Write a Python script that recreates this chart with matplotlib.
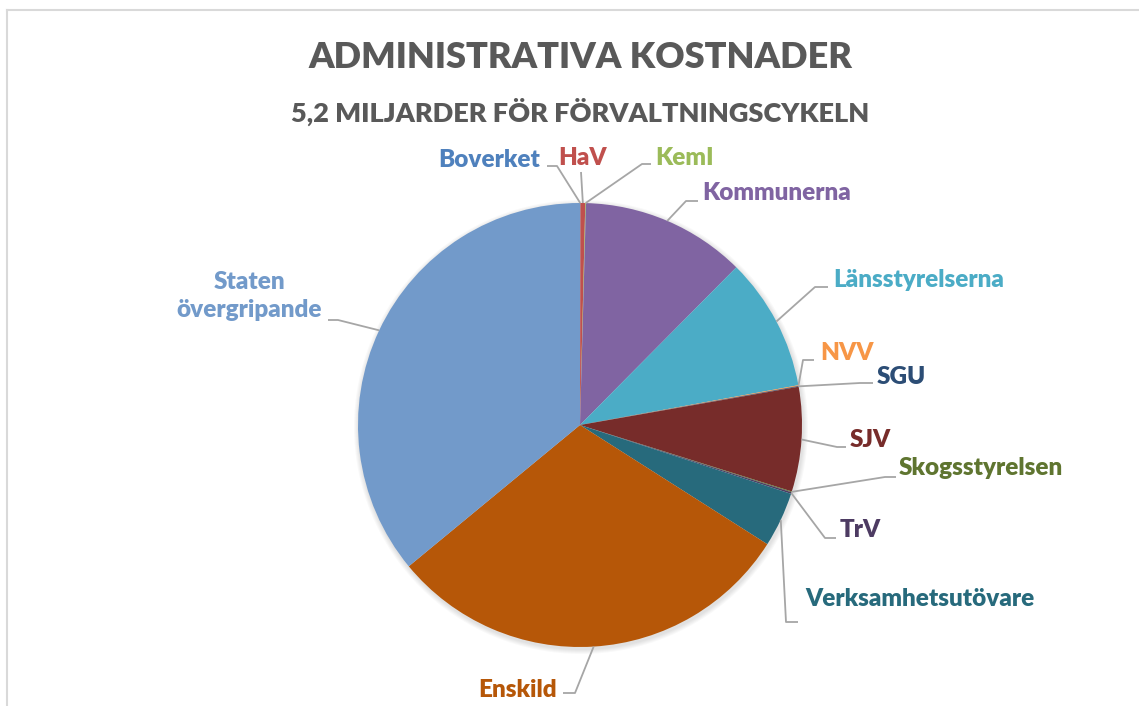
import numpy as np
import matplotlib
matplotlib.use("Agg")
import matplotlib.pyplot as plt
from matplotlib.patches import Circle

plt.rcParams["font.family"] = ["Lato", "DejaVu Sans"]

# slice shares in percent, clockwise from 12 o'clock
labels = ["Boverket", "HaV", "KemI", "Kommunerna", "Länsstyrelserna", "NVV", "SGU",
          "SJV", "Skogsstyrelsen", "TrV", "Verksamhetsutövare", "Enskild",
          "Staten\növergripande"]
values = [0.03, 0.35, 0.05, 12.0, 9.7, 0.06, 0.05, 7.6, 0.06, 0.12, 4.0, 30.0, 35.98]
colors = ["#4F81BD", "#C0504D", "#9BBB59", "#8064A2", "#4BACC6", "#F79646", "#2C4D75",
          "#772C2A", "#5F7530", "#4D3B62", "#276A7C", "#B65708", "#729ACA"]
label_colors = ["#4F81BD", "#C0504D", "#9BBB59", "#8064A2", "#4BACC6", "#F79646", "#2C4D75",
                "#772C2A", "#5F7530", "#4D3B62", "#276A7C", "#B65708", "#729ACA"]

# label layout in pixel coords (y down): text x, text y, ha, elbow, end of leader
layout = {
    "Boverket": (540, 160, "right", (557, 166), (547, 166)),
    "HaV": (583, 158, "center", (581, 172), (581, 172)),
    "KemI": (655, 158, "left", (642, 164), (651, 164)),
    "Kommunerna": (702, 193, "left", (686, 201), (698, 201)),
    "Länsstyrelserna": (833, 280, "left", (815, 287), (828, 287)),
    "NVV": (820, 353, "left", (803, 360), (814, 360)),
    "SGU": (877, 377, "left", (860, 383), (873, 383)),
    "SJV": (850, 440, "left", (837, 447), (846, 447)),
    "Skogsstyrelsen": (899, 468, "left", (885, 477), (896, 477)),
    "TrV": (840, 530, "left", (825, 538), (836, 538)),
    "Verksamhetsutövare": (805, 599, "left", (786, 622), (798, 622)),
    "Enskild": (557, 690, "right", (575, 693), (563, 693)),
    "Staten\növergripande": (249, 296, "center", (338, 320), (328, 320)),
}

W, H = 1139, 706
cx, cy, r = 580, 425, 222

fig = plt.figure(figsize=(W / 100, H / 100), dpi=100)
ax = fig.add_axes([0, 0, 1, 1])

# soft shadow behind the pie
for k in range(1, 6):
    ax.add_patch(Circle((cx + 1, cy + 2), r + k, color="#000000", alpha=0.025, lw=0, zorder=0))

wedges, _ = ax.pie(values, colors=colors, startangle=-90, counterclock=True,
                   center=(cx, cy), radius=r, wedgeprops=dict(linewidth=0))
for w in wedges:
    w.set_zorder(2)

for w, lab, col in zip(wedges, labels, label_colors):
    tx, ty, ha, elbow, end = layout[lab]
    mid = np.deg2rad((w.theta1 + w.theta2) / 2)
    ex, ey = cx + r * np.cos(mid), cy + r * np.sin(mid)
    ax.plot([ex, elbow[0], end[0]], [ey, elbow[1], end[1]], color="#A6A6A6", lw=1.3,
            zorder=3, solid_capstyle="butt")
    ax.text(tx, ty, lab, color=col, fontsize=17.5, fontweight="heavy", ha=ha, va="center",
            linespacing=1.3, multialignment="center")

ax.text(580, 58, "ADMINISTRATIVA KOSTNADER", color="#595959", fontsize=26,
        fontweight="heavy", ha="center", va="center")
ax.text(580, 112, "5,2 MILJARDER FÖR FÖRVALTNINGSCYKELN", color="#595959", fontsize=19.5,
        fontweight="heavy", ha="center", va="center")

# chart area border (partly cropped)
ax.plot([7, W], [10, 10], color="#D9D9D9", lw=1.5)
ax.plot([7, 7], [10, H], color="#D9D9D9", lw=1.5)

ax.set_xlim(0, W)
ax.set_ylim(H, 0)
ax.set_aspect("equal")
ax.axis("off")

fig.savefig("out.png", dpi=100)
